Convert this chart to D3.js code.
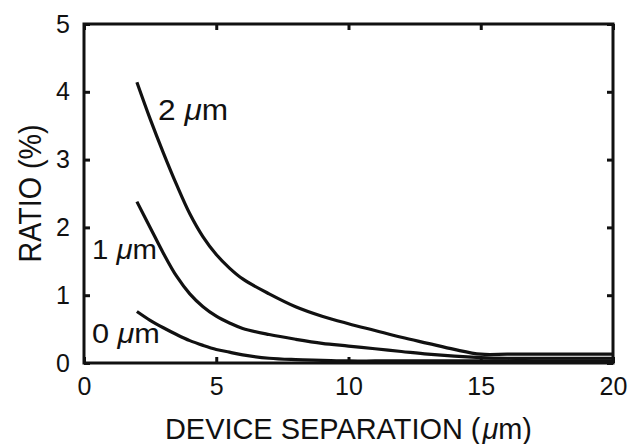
<!DOCTYPE html>
<html>
<head>
<meta charset="utf-8">
<script src="https://cdn.jsdelivr.net/npm/d3@7"></script>
<style>
  body { margin: 0; background: #fff; }
  text { font-family: "Liberation Sans", Arial, sans-serif; fill: #111; }
</style>
</head>
<body>
<div id="chart"></div>
<script>
// device separation (um) sampled along each curve
var sepX = [2, 2.5, 3, 3.5, 4, 4.5, 5, 5.5, 6, 7, 8, 9, 10, 11, 12, 13, 14, 15, 16, 17, 18, 19, 20];
// ratio (%) for each spacing
var ratio2um = [4.14, 3.60, 3.10, 2.63, 2.20, 1.86, 1.60, 1.40, 1.24, 1.02, 0.83, 0.69, 0.58, 0.48, 0.38, 0.29, 0.20, 0.13, 0.13, 0.13, 0.13, 0.13, 0.13];
var ratio1um = [2.38, 2.00, 1.62, 1.28, 1.02, 0.83, 0.69, 0.59, 0.51, 0.42, 0.35, 0.29, 0.25, 0.21, 0.17, 0.13, 0.10, 0.08, 0.07, 0.07, 0.07, 0.07, 0.07];
var ratio0um = [0.76, 0.63, 0.52, 0.42, 0.33, 0.26, 0.20, 0.16, 0.12, 0.07, 0.05, 0.04, 0.03, 0.03, 0.03, 0.03, 0.03, 0.03, 0.03, 0.03, 0.03, 0.03, 0.03];
var seriesNames = ["2", "1", "0"];
var xTicks = [0, 5, 10, 15, 20];
var yTicks = [0, 1, 2, 3, 4, 5];

var margin = {top: 24, right: 19, bottom: 81, left: 84},
    width = 632 - margin.left - margin.right,
    height = 444 - margin.top - margin.bottom;

var x = d3.scaleLinear().domain([0, 20]).range([0, width]);
var y = d3.scaleLinear().domain([0, 5]).range([height, 0]);

var svg = d3.select("#chart").append("svg")
    .attr("width", 632)
    .attr("height", 444)
  .append("g")
    .attr("transform", "translate(" + margin.left + "," + margin.top + ")");

// inward ticks on all four sides
function tickAxis(g, axis) {
  g.call(axis);
  g.select(".domain").remove();
  g.selectAll(".tick line").attr("stroke", "#111").attr("stroke-width", 3);
}

svg.append("g")
    .attr("transform", "translate(0," + height + ")")
    .call(tickAxis, d3.axisBottom(x).tickValues(xTicks).tickSize(-6).tickPadding(14).tickFormat(d3.format("d")));
svg.append("g")
    .call(tickAxis, d3.axisTop(x).tickValues(xTicks).tickSize(-6).tickFormat(""));
svg.append("g")
    .call(tickAxis, d3.axisLeft(y).tickValues(yTicks).tickSize(-6).tickPadding(14).tickFormat(d3.format("d")));
svg.append("g")
    .attr("transform", "translate(" + width + ",0)")
    .call(tickAxis, d3.axisRight(y).tickValues(yTicks).tickSize(-6).tickFormat(""));

svg.selectAll(".tick text")
    .style("font-family", "'Liberation Sans', Arial, sans-serif")
    .style("font-size", "25px")
    .attr("fill", "#111");

svg.append("rect")
    .attr("width", width)
    .attr("height", height)
    .attr("fill", "none")
    .attr("stroke", "#111")
    .attr("stroke-width", 3);

var line = d3.line()
    .curve(d3.curveCatmullRom)
    .x(function(d) { return x(d[0]); })
    .y(function(d) { return y(d[1]); });

[ratio2um, ratio1um, ratio0um].forEach(function(vals) {
  svg.append("path")
      .datum(d3.zip(sepX, vals))
      .attr("fill", "none")
      .attr("stroke", "#111")
      .attr("stroke-width", 3.2)
      .attr("d", line);
});

// curve labels
var labelPos = [[2.8, 3.58, 29, 70], [0.3, 1.54, 27, 65], [0.3, 0.29, 27, 68]];
seriesNames.forEach(function(n, i) {
  var t = svg.append("text")
      .attr("x", x(labelPos[i][0]))
      .attr("y", y(labelPos[i][1]))
      .attr("textLength", labelPos[i][3])
      .attr("lengthAdjust", "spacingAndGlyphs")
      .style("font-size", labelPos[i][2] + "px");
  t.append("tspan").text(n + " ");
  t.append("tspan").style("font-style", "italic").text("\u03bc");
  t.append("tspan").text("m");
});

// axis titles
var xt = svg.append("text")
    .attr("x", x(10))
    .attr("y", height + 76)
    .attr("text-anchor", "middle")
    .attr("textLength", 367)
    .attr("lengthAdjust", "spacingAndGlyphs")
    .style("font-size", "30px");
xt.append("tspan").text("DEVICE SEPARATION (");
xt.append("tspan").attr("dx", 2).style("font-style", "italic").text("\u03bc");
xt.append("tspan").text("m)");

svg.append("text")
    .attr("transform", "translate(" + (-43) + "," + y(2.5) + ") rotate(-90)")
    .attr("text-anchor", "middle")
    .attr("textLength", 138)
    .attr("lengthAdjust", "spacingAndGlyphs")
    .style("font-size", "31px")
    .text("RATIO (%)");
</script>
</body>
</html>
